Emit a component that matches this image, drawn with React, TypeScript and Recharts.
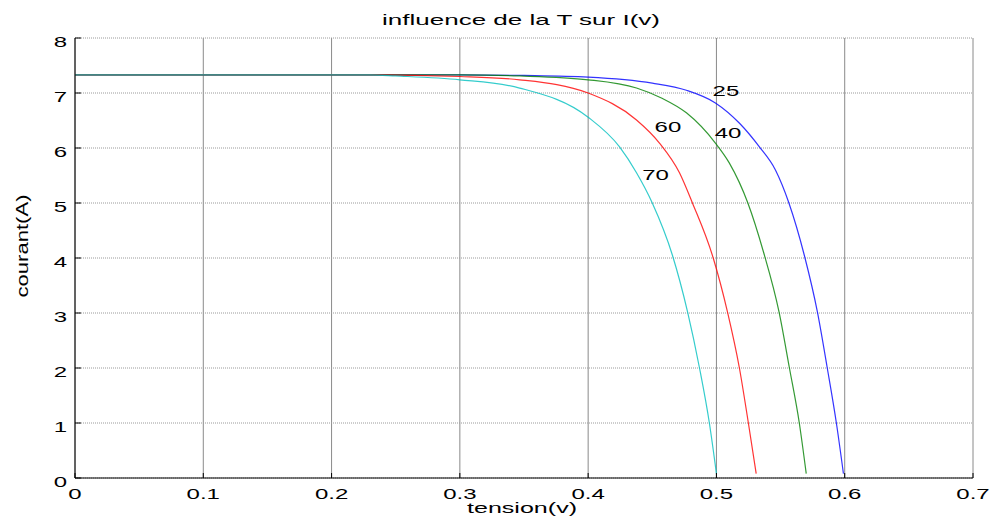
import {
  LineChart,
  Line,
  XAxis,
  YAxis,
  CartesianGrid,
  ReferenceDot,
} from "recharts";

// tension (V) / courant (A), one pair of arrays per temperature
const v25 = [0, 0.25, 0.3, 0.35, 0.4, 0.45, 0.4766, 0.4992, 0.518, 0.5335, 0.546, 0.5565, 0.5685, 0.5787, 0.5864, 0.5935, 0.599];
const i25 = [7.33, 7.33, 7.33, 7.32, 7.29, 7.18, 7.05, 6.82, 6.45, 6.02, 5.6, 5.0, 4.05, 3.02, 2.0, 1.0, 0.08];

const v40 = [0, 0.25, 0.3, 0.3466, 0.4, 0.4377, 0.458, 0.4766, 0.4992, 0.51, 0.5245, 0.5368, 0.5488, 0.5569, 0.5646, 0.57];
const i40 = [7.33, 7.33, 7.33, 7.31, 7.24, 7.09, 6.9, 6.64, 6.09, 5.73, 5.0, 4.1, 3.02, 2.0, 1.0, 0.08];

const v60 = [0, 0.23, 0.3, 0.3466, 0.4, 0.4377, 0.4556, 0.4712, 0.4813, 0.4975, 0.5086, 0.5179, 0.5249, 0.531];
const i60 = [7.33, 7.33, 7.3, 7.24, 7.0, 6.51, 6.09, 5.55, 5.0, 4.0, 3.02, 2.0, 1.0, 0.08];

const v70 = [0, 0.23, 0.25, 0.3, 0.3466, 0.4, 0.4245, 0.4377, 0.45, 0.4657, 0.4775, 0.4868, 0.4945, 0.5];
const i70 = [7.33, 7.33, 7.31, 7.24, 7.09, 6.56, 6.02, 5.55, 5.0, 4.05, 3.02, 2.0, 1.0, 0.08];

const xTicks = [0, 0.1, 0.2, 0.3, 0.4, 0.5, 0.6, 0.7];
const yTicks = [0, 1, 2, 3, 4, 5, 6, 7, 8];

const curveLabels = [
  { text: "25", v: 0.5074, i: 6.95 },
  { text: "40", v: 0.509, i: 6.18 },
  { text: "60", v: 0.4622, i: 6.29 },
  { text: "70", v: 0.4525, i: 5.42 },
];

const toRows = (vs: number[], is: number[]) => vs.map((v, k) => ({ v, i: is[k] }));

const series = [
  { name: "25", color: "#0000ff", rows: toRows(v25, i25) },
  { name: "40", color: "#008000", rows: toRows(v40, i40) },
  { name: "60", color: "#ff0000", rows: toRows(v60, i60) },
  { name: "70", color: "#00bfbf", rows: toRows(v70, i70) },
];

const FONT = '"Liberation Sans", Arial, Helvetica, sans-serif';
const SX = 1.6; // matlab export is stretched sideways

function Wide({ x, y, anchor = "middle", size = 15, children }: any) {
  return (
    <g transform={`translate(${x},${y}) scale(${SX},1)`}>
      <text textAnchor={anchor} fontFamily={FONT} fontSize={size} fill="#000">
        {children}
      </text>
    </g>
  );
}

const fmtX = (v: number) => (v === 0 ? "0" : v.toFixed(1));

function BottomTick({ x, y, payload }: any) {
  return (
    <g>
      <line x1={x} x2={x} y1={y} y2={y - 5} stroke="#000" />
      <Wide x={x} y={y + 21}>{fmtX(payload.value)}</Wide>
    </g>
  );
}

function LeftTick({ x, y, payload }: any) {
  return (
    <g>
      <line x1={x} x2={x + 6} y1={y} y2={y} stroke="#000" />
      <Wide x={x - 8} y={y + 8.5} anchor="end">{payload.value}</Wide>
    </g>
  );
}

function TopTick({ x, y }: any) {
  return <line x1={x} x2={x} y1={y} y2={y + 5} stroke="#000" />;
}

function RightTick({ x, y }: any) {
  return <line x1={x} x2={x - 6} y1={y} y2={y} stroke="#000" />;
}

export default function App() {
  return (
    <div style={{ position: "absolute", left: 0, top: 0, width: 994, height: 524, background: "#fff" }}>
      <LineChart width={994} height={524} margin={{ top: 38, right: 21, bottom: 0, left: 0 }}>
        <CartesianGrid horizontal={false} stroke="#8a8a8a" />
        <CartesianGrid vertical={false} stroke="#9a9a9a" strokeDasharray="1 1" />
        <XAxis
          type="number"
          dataKey="v"
          domain={[0, 0.7]}
          ticks={xTicks}
          height={46}
          tickSize={0}
          tickMargin={0}
          tickLine={false}
          axisLine={{ stroke: "#000" }}
          tick={<BottomTick />}
          interval={0}
          allowDataOverflow
        />
        <XAxis
          xAxisId="top"
          orientation="top"
          type="number"
          domain={[0, 0.7]}
          ticks={xTicks}
          height={0}
          tickSize={0}
          tickMargin={0}
          tickLine={false}
          axisLine={{ stroke: "#000" }}
          tick={<TopTick />}
          interval={0}
        />
        <YAxis
          type="number"
          domain={[0, 8]}
          ticks={yTicks}
          width={75}
          tickSize={0}
          tickMargin={0}
          tickLine={false}
          axisLine={{ stroke: "#000" }}
          tick={<LeftTick />}
          interval={0}
        />
        <YAxis
          yAxisId="right"
          orientation="right"
          type="number"
          domain={[0, 8]}
          ticks={yTicks}
          width={0}
          tickSize={0}
          tickMargin={0}
          tickLine={false}
          axisLine={{ stroke: "#000", strokeWidth: 1.5 }}
          tick={<RightTick />}
          interval={0}
        />
        {series.map((s) => (
          <Line
            key={s.name}
            data={s.rows}
            dataKey="i"
            type="monotone"
            stroke={s.color}
            strokeOpacity={0.8}
            strokeWidth={1.2}
            dot={false}
            activeDot={false}
            isAnimationActive={false}
          />
        ))}
        {curveLabels.map((l) => (
          <ReferenceDot
            key={l.text}
            x={l.v}
            y={l.i}
            r={0}
            shape={(p: any) => <Wide x={p.cx} y={p.cy}>{l.text}</Wide>}
          />
        ))}
        <text
          x={521}
          y={25}
          textAnchor="middle"
          fontFamily={FONT}
          fontSize={15}
          textLength={278}
          lengthAdjust="spacingAndGlyphs"
        >
          influence de la T sur I(v)
        </text>
        <text
          x={522}
          y={513}
          textAnchor="middle"
          fontFamily={FONT}
          fontSize={15}
          textLength={110}
          lengthAdjust="spacingAndGlyphs"
        >
          tension(v)
        </text>
        <text
          x={0}
          y={0}
          transform="translate(28,246) rotate(-90)"
          textAnchor="middle"
          fontFamily={FONT}
          fontSize={16}
          textLength={103}
          lengthAdjust="spacingAndGlyphs"
        >
          courant(A)
        </text>
      </LineChart>
    </div>
  );
}
